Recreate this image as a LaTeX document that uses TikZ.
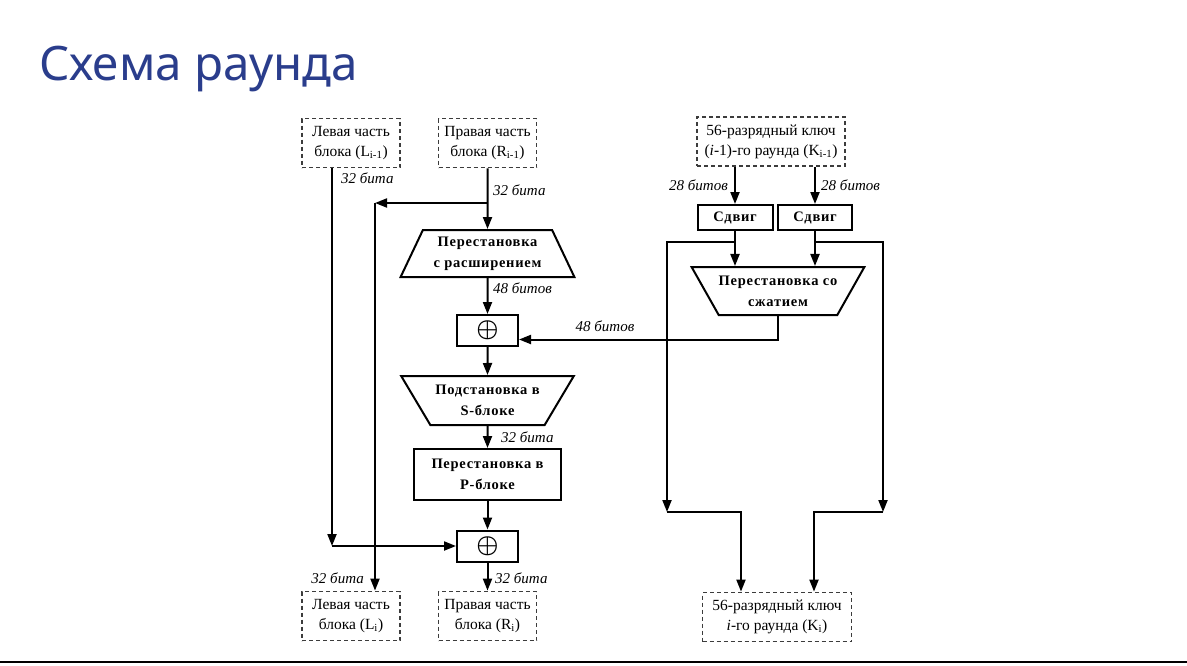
\documentclass[tikz,border=0pt]{standalone}
\usepackage{fontspec}
\setmainfont{Liberation Serif}
\newfontfamily\titlefont{Noto Sans}
\newfontfamily\blockfont{Liberation Serif}[LetterSpace=5]
\usetikzlibrary{shapes.geometric,arrows.meta}
\definecolor{titleblue}{RGB}{42,61,140}
\definecolor{dashgray}{RGB}{60,60,60}
\tikzset{
  half/.style={draw=dashgray,dash pattern=on 4pt off 3pt,line width=1.8pt,align=center,
    font=\fontsize{15.5}{20}\selectfont,inner sep=0pt,minimum width=98pt,minimum height=49pt},
  oper/.style={draw,line width=2pt,align=center,
    font=\blockfont\bfseries\fontsize{14.5}{21}\selectfont,inner sep=0pt},
  xorbox/.style={draw,line width=2pt,minimum width=61pt,minimum height=31pt,
    font=\fontsize{26}{26}\selectfont\boldmath},
  bits/.style={font=\itshape\fontsize{15}{16}\selectfont,inner sep=1pt},
  wire/.style={line width=2pt}
}
\begin{document}
\begin{tikzpicture}[x=1pt,y=-1pt,>={Triangle[length=12pt,width=9pt]}]
  \useasboundingbox (0,0) rectangle (1187,665);
  \node[anchor=base west,inner sep=0pt,text=titleblue,font=\titlefont\fontsize{47.5}{60}\selectfont]
    (title) at (39,80) {Схема раунда};
  \draw[line width=2.5pt] (0,662) -- (1187,662);

  % halves of the block
  \node[half] (lprev) at (351,143) {Левая часть\\блока (L\textsubscript{i-1})};
  \node[half] (rprev) at (487.5,143) {Правая часть\\блока (R\textsubscript{i-1})};
  \node[half] (lnext) at (351,616) {Левая часть\\блока (L\textsubscript{i})};
  \node[half] (rnext) at (487.5,616) {Правая часть\\блока (R\textsubscript{i})};
  % round keys
  \node[half,minimum width=148pt] (kprev) at (771,141.5)
    {56-разрядный ключ\\(\textit{i}-1)-го раунда (K\textsubscript{i-1})};
  \node[half,minimum width=149pt] (knext) at (777,617)
    {56-разрядный ключ\\\textit{i}-го раунда (K\textsubscript{i})};

  % round function
  \node[oper,trapezium,trapezium angle=61,trapezium stretches=true,
    minimum width=174pt,minimum height=47pt] (expand) at (487.5,253.5)
    {Перестановка\\с расширением};
  \node[xorbox] (xor1) at (487.5,330.5) {$\oplus$};
  \node[oper,trapezium,trapezium angle=49,trapezium stretches=true,shape border rotate=180,
    minimum width=173pt,minimum height=49pt] (sbox) at (487.5,400.5)
    {Подстановка в\\S-блоке};
  \node[oper,minimum width=147pt,minimum height=51pt] (pbox) at (487.5,474.5)
    {Перестановка в\\P-блоке};
  \node[xorbox] (xor2) at (487.5,546) {$\oplus$};

  % key schedule
  \node[oper,minimum width=75pt,minimum height=25pt] (shiftl) at (735,217.5) {Сдвиг};
  \node[oper,minimum width=74pt,minimum height=25pt] (shiftr) at (815,217.5) {Сдвиг};
  \node[oper,trapezium,trapezium angle=48.5,trapezium stretches=true,shape border rotate=180,
    minimum width=172pt,minimum height=48pt] (compress) at (778,291)
    {Перестановка со\\сжатием};

  \coordinate (lturn) at ([xshift=-19pt]lprev.south |- xor2.west);
  \coordinate (rsplit) at (487.5,203);
  \coordinate (rturn) at (375,203);
  \coordinate (ksplitl) at (735,242);
  \coordinate (ksplitr) at (815,242);
  \coordinate (kleft) at (667,242);
  \coordinate (kright) at (883,242);
  \coordinate (kleftturn) at (667,512);
  \coordinate (krightturn) at (883,512);
  \coordinate (kleftin) at (741,512);
  \coordinate (krightin) at (814,512);

  % block path
  \draw[wire,->] ([xshift=-19pt]lprev.south) -- (lturn);
  \draw[wire,->] (lturn) -- (xor2.west);
  \draw[wire,->] (rprev.south) -- (expand.north);
  \draw[wire,->] (rsplit) -- (rturn);
  \draw[wire,->] (rturn) -- (rturn |- lnext.north);
  \draw[wire,->] (expand.south) -- (xor1.north);
  \draw[wire,->] (compress.south) |- ([yshift=-9pt]xor1.east);
  \draw[wire,->] (xor1.south) -- (sbox.north);
  \draw[wire,->] (sbox.south) -- (pbox.north);
  \draw[wire,->] (pbox.south) -- (xor2.north);
  \draw[wire,->] (xor2.south) -- (rnext.north);

  % key path
  \draw[wire,->] ([xshift=-36pt]kprev.south) -- (shiftl.north);
  \draw[wire,->] ([xshift=44pt]kprev.south) -- (shiftr.north);
  \draw[wire,->] (shiftl.south) -- (shiftl.south |- compress.north);
  \draw[wire,->] (shiftr.south) -- (shiftr.south |- compress.north);
  \draw[wire,->] (ksplitl) -- (kleft) -- (kleftturn);
  \draw[wire,->] (ksplitr) -- (kright) -- (krightturn);
  \draw[wire,->] (kleftturn) -- (kleftin) -- (kleftin |- knext.north);
  \draw[wire,->] (krightturn) -- (krightin) -- (krightin |- knext.north);

  % widths
  \node[bits,anchor=west] (b1) at (340,178) {32 бита};
  \node[bits,anchor=west] (b2) at (492,190) {32 бита};
  \node[bits,anchor=west] (b3) at (492,288) {48 битов};
  \node[bits] (b4) at (605,326) {48 битов};
  \node[bits,anchor=west] (b5) at (500,437) {32 бита};
  \node[bits,anchor=west] (b6) at (494,578) {32 бита};
  \node[bits,anchor=east] (b7) at (365,578) {32 бита};
  \node[bits,anchor=east] (b8) at (729,185) {28 битов};
  \node[bits,anchor=west] (b9) at (820,185) {28 битов};
\end{tikzpicture}
\end{document}
